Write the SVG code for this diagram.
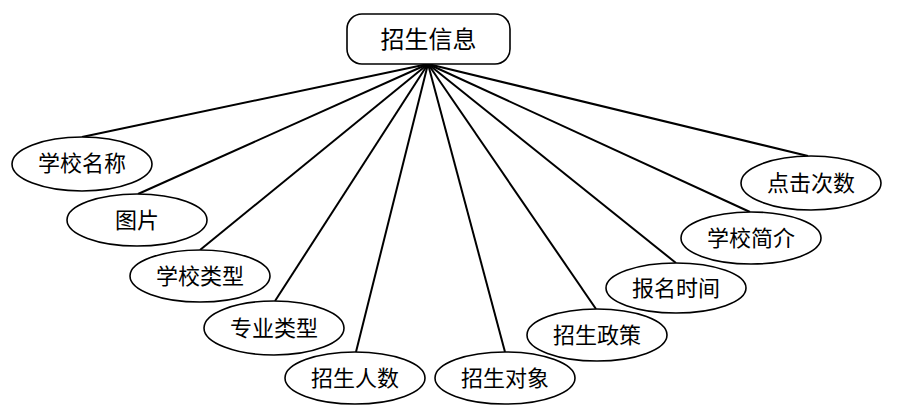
<svg xmlns="http://www.w3.org/2000/svg" width="902" height="414" viewBox="0 0 902 414">
<style>
.e{fill:#fff;stroke:#000;stroke-width:1.6}
.t{font-family:"Noto Sans CJK SC","Noto Sans",sans-serif;font-size:22px;fill:#000;text-anchor:middle}
.c line{stroke:#000;stroke-width:2}
</style>
<rect width="902" height="414" fill="#fff"/>
<g class="c" id="connectors">
<line x1="428" y1="64" x2="82" y2="137"/>
<line x1="428" y1="64" x2="138" y2="194"/>
<line x1="428" y1="64" x2="200" y2="250"/>
<line x1="428" y1="64" x2="275" y2="301"/>
<line x1="428" y1="64" x2="356" y2="352"/>
<line x1="428" y1="64" x2="505" y2="352"/>
<line x1="428" y1="64" x2="596" y2="309"/>
<line x1="428" y1="64" x2="676" y2="263"/>
<line x1="428" y1="64" x2="750" y2="212"/>
<line x1="428" y1="64" x2="808" y2="156"/>
</g>
<g id="root">
<rect x="347" y="14" width="163" height="50" rx="15" class="e"/>
<text x="428.5" y="48" class="t" style="font-size:24px">招生信息</text>
</g>
<g id="n1"><ellipse cx="82" cy="164" rx="70" ry="27" class="e"/><text x="82" y="171" class="t">学校名称</text></g>
<g id="n2"><ellipse cx="137" cy="220" rx="70" ry="26" class="e"/><text x="137" y="228" class="t">图片</text></g>
<g id="n3"><ellipse cx="200" cy="276" rx="70" ry="26" class="e"/><text x="200" y="284" class="t">学校类型</text></g>
<g id="n4"><ellipse cx="274" cy="328" rx="70" ry="27" class="e"/><text x="274" y="336" class="t">专业类型</text></g>
<g id="n5"><ellipse cx="355" cy="378" rx="70" ry="26" class="e"/><text x="355" y="386" class="t">招生人数</text></g>
<g id="n6"><ellipse cx="505" cy="378" rx="70" ry="26" class="e"/><text x="505" y="386" class="t">招生对象</text></g>
<g id="n7"><ellipse cx="597" cy="335" rx="70" ry="26" class="e"/><text x="597" y="343" class="t">招生政策</text></g>
<g id="n8"><ellipse cx="676" cy="288" rx="70" ry="25" class="e"/><text x="676" y="296" class="t">报名时间</text></g>
<g id="n9"><ellipse cx="751" cy="238" rx="70" ry="26" class="e"/><text x="751" y="246" class="t">学校简介</text></g>
<g id="n10"><ellipse cx="811" cy="183" rx="70" ry="27" class="e"/><text x="811" y="191" class="t">点击次数</text></g>
</svg>
